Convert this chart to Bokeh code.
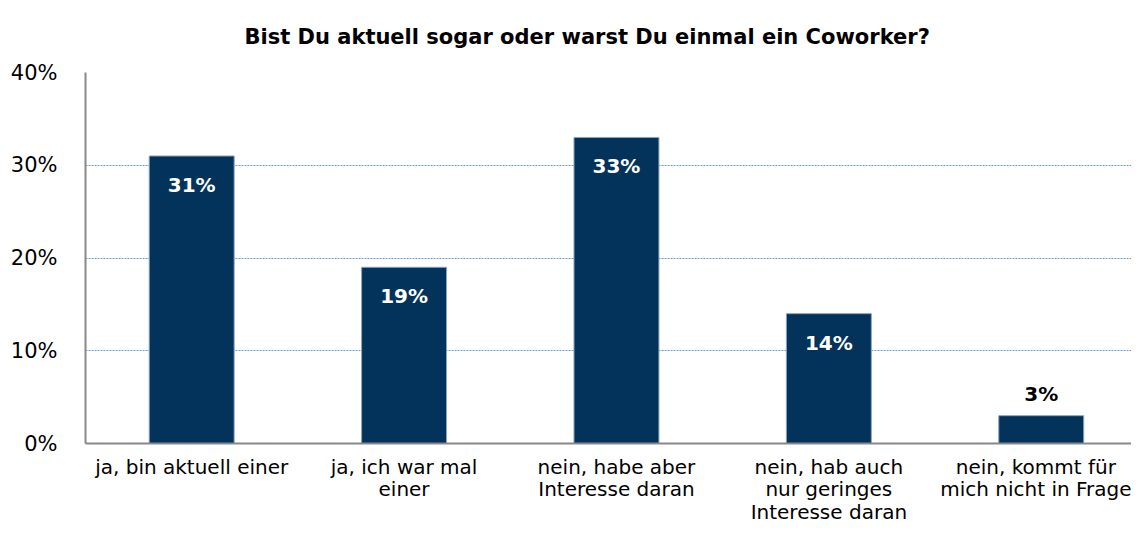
from bokeh.plotting import figure
from bokeh.models import ColumnDataSource, NumeralTickFormatter, FixedTicker, Range1d
from bokeh.embed import file_html
from bokeh.resources import INLINE
from bokeh.core.properties import value

categories = ["ja, bin aktuell einer", "ja, ich war mal\neiner", "nein, habe aber\nInteresse daran",
              "nein, hab auch\nnur geringes\nInteresse daran", "nein, kommt für\nmich nicht in Frage"]
values = [0.31, 0.19, 0.33, 0.14, 0.03]
labels = ["31%", "19%", "33%", "14%", "3%"]
y_ticks = [0, 0.1, 0.2, 0.3, 0.4]
title = "Bist Du aktuell sogar oder warst Du einmal ein Coworker?"

BAR = "#03335A"
FONT = "DejaVu Sans"

xs = list(range(len(categories)))

p = figure(x_range=Range1d(-0.5, len(categories) - 0.575), y_range=Range1d(0, 0.4),
           width=1131, height=528,
           output_backend="svg", toolbar_location=None, title=title,
           min_border_left=85, min_border_right=0, min_border_top=72, min_border_bottom=85)
p.title.align = "left"
p.title.vertical_align = "top"
p.title.text_font = FONT
p.title.text_font_size = "21px"
p.title.text_font_style = "bold"
p.title.text_color = "#000000"
p.title.offset = 159
p.title.standoff = 44

p.vbar(x=xs, top=values, width=0.4, fill_color=BAR, line_color="#8EA4BC", line_width=1)

ins = [i for i, v in enumerate(values) if v > 0.05]
outs = [i for i, v in enumerate(values) if v <= 0.05]
inside = ColumnDataSource(dict(x=[xs[i] for i in ins], y=[values[i] for i in ins], t=[labels[i] for i in ins]))
outside = ColumnDataSource(dict(x=[xs[i] for i in outs], y=[values[i] for i in outs], t=[labels[i] for i in outs]))
p.text(x="x", y="y", text="t", source=inside, text_color="white", text_align="center",
       text_baseline="middle", y_offset=29, text_font=value(FONT), text_font_style="bold",
       text_font_size="20px")
p.text(x="x", y="y", text="t", source=outside, text_color="black", text_align="center",
       text_baseline="middle", y_offset=-22, text_font=value(FONT), text_font_style="bold",
       text_font_size="20px")

p.outline_line_color = None
p.xgrid.grid_line_color = None
p.ygrid.ticker = FixedTicker(ticks=y_ticks[1:])
p.ygrid.grid_line_color = "#6E9CD6"
p.ygrid.grid_line_dash = "2 1"
p.ygrid.grid_line_width = 1

p.yaxis.ticker = FixedTicker(ticks=y_ticks)
p.yaxis.formatter = NumeralTickFormatter(format="0%")
p.yaxis.axis_line_color = "#888888"
p.yaxis.axis_line_width = 2
p.yaxis.major_tick_line_color = None
p.yaxis.minor_tick_line_color = None
p.yaxis.major_label_text_font = FONT
p.yaxis.major_label_text_font_size = "21px"
p.yaxis.major_label_text_color = "#000000"
p.yaxis.major_label_standoff = 22

p.xaxis.ticker = FixedTicker(ticks=xs)
p.xaxis.major_label_overrides = {i: c for i, c in zip(xs, categories)}
p.xaxis.axis_line_color = "#888888"
p.xaxis.axis_line_width = 2
p.xaxis.major_tick_line_color = None
p.xaxis.minor_tick_line_color = None
p.xaxis.major_label_text_font = FONT
p.xaxis.major_label_text_font_size = "20px"
p.xaxis.major_label_text_color = "#000000"
p.xaxis.major_label_text_line_height = 0.95
p.xaxis.major_label_standoff = 5

open("out.html", "w").write(file_html(p, INLINE))
